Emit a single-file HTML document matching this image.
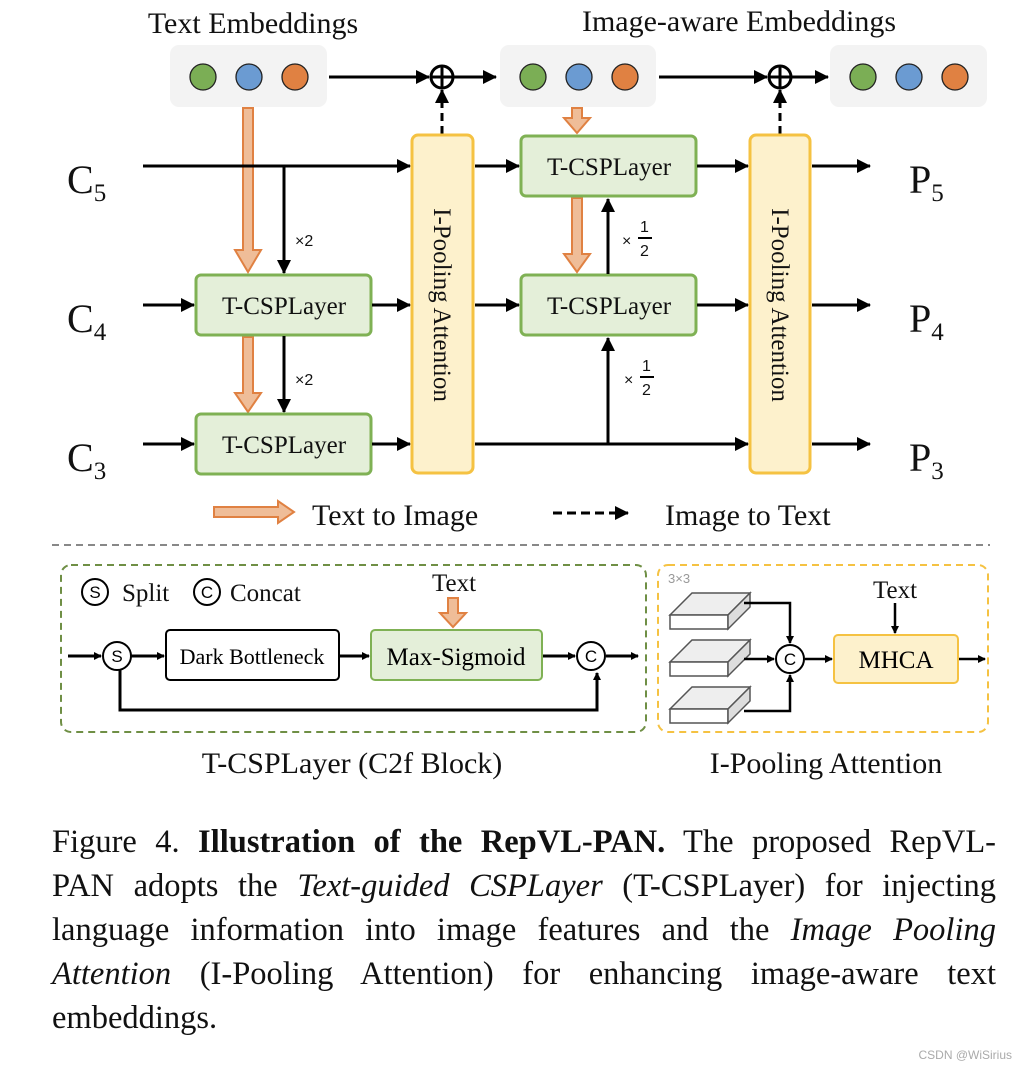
<!DOCTYPE html>
<html><head><meta charset="utf-8"><style>
body{margin:0;background:#fff;width:1026px;height:1070px;overflow:hidden}
svg{position:absolute;left:0;top:0}
.cap{position:absolute;left:52px;width:944px;font-family:"Liberation Serif",serif;font-size:32.5px;line-height:44px;top:820px;color:#111}
.cap div{text-align:justify;text-align-last:justify;white-space:nowrap}
.cap div.l{text-align-last:left}
</style></head><body>
<svg width="1026" height="1070" viewBox="0 0 1026 1070" font-family="Liberation Serif, serif">
<defs>
<marker id="a" markerWidth="8" markerHeight="8" refX="7" refY="4" orient="auto" markerUnits="userSpaceOnUse" viewBox="0 0 8 8"><path d="M0,0L8,4L0,8z" fill="#000"/></marker>
<marker id="b" markerWidth="14" markerHeight="14" refX="13" refY="7" orient="auto" markerUnits="userSpaceOnUse" viewBox="0 0 14 14"><path d="M0,0L14,7L0,14z" fill="#000"/></marker>
</defs>
<g font-size="30" fill="#111">
<text x="253" y="33" text-anchor="middle">Text Embeddings</text>
<text x="739" y="31" text-anchor="middle">Image-aware Embeddings</text>
</g>
<g fill="#f3f3f3"><rect x="170" y="45" width="157" height="62" rx="9"/><rect x="500" y="45" width="156" height="62" rx="9"/><rect x="830" y="45" width="157" height="62" rx="9"/></g>
<g stroke="#222" stroke-width="1.3">
<circle cx="203" cy="77" r="13" fill="#7bae55"/><circle cx="249" cy="77" r="13" fill="#6b9bd2"/><circle cx="295" cy="77" r="13" fill="#e08142"/>
<circle cx="533" cy="77" r="13" fill="#7bae55"/><circle cx="579" cy="77" r="13" fill="#6b9bd2"/><circle cx="625" cy="77" r="13" fill="#e08142"/>
<circle cx="863" cy="77" r="13" fill="#7bae55"/><circle cx="909" cy="77" r="13" fill="#6b9bd2"/><circle cx="955" cy="77" r="13" fill="#e08142"/>
</g>
<g stroke="#000" stroke-width="3" fill="none">
<line x1="329" y1="77" x2="429" y2="77" marker-end="url(#b)"/>
<circle cx="442" cy="77" r="11" fill="#fff"/><line x1="431" y1="77" x2="453" y2="77"/><line x1="442" y1="66" x2="442" y2="88"/>
<line x1="454" y1="77" x2="496" y2="77" marker-end="url(#b)"/>
<line x1="659" y1="77" x2="767" y2="77" marker-end="url(#b)"/>
<circle cx="780" cy="77" r="11" fill="#fff"/><line x1="769" y1="77" x2="791" y2="77"/><line x1="780" y1="66" x2="780" y2="88"/>
<line x1="792" y1="77" x2="828" y2="77" marker-end="url(#b)"/>
<line x1="442" y1="134" x2="442" y2="90" stroke-dasharray="8,5" marker-end="url(#b)"/>
<line x1="780" y1="134" x2="780" y2="90" stroke-dasharray="8,5" marker-end="url(#b)"/>
</g>
<g fill="#efbd98" stroke="#e08142" stroke-width="2">
<path d="M243,108h10v142h8l-13,22l-13,-22h8z"/>
<path d="M243,337h10v56h8l-13,19l-13,-19h8z"/>
<path d="M572,108h10v10h8l-13,15l-13,-15h8z"/>
<path d="M572,198h10v56h8l-13,18l-13,-18h8z"/>
<path d="M214,507h64v-6l16,11l-16,11v-6h-64z"/>
<path d="M448,598h10v15h8l-13,14l-13,-14h8z"/>
</g>
<g fill="#fdf1cc" stroke="#f5c242" stroke-width="3">
<rect x="412" y="135" width="61" height="338" rx="6"/><rect x="750" y="135" width="60" height="338" rx="6"/>
</g>
<g font-size="25" fill="#111">
<text transform="translate(434,305) rotate(90)" text-anchor="middle">I-Pooling Attention</text>
<text transform="translate(772,305) rotate(90)" text-anchor="middle">I-Pooling Attention</text>
</g>
<g fill="#e4efd9" stroke="#7fb154" stroke-width="3">
<rect x="196" y="275" width="175" height="60" rx="5"/><rect x="196" y="414" width="175" height="60" rx="5"/>
<rect x="521" y="136" width="175" height="60" rx="5"/><rect x="521" y="275" width="175" height="60" rx="5"/>
</g>
<g font-size="25" fill="#111" text-anchor="middle">
<text x="284" y="314">T-CSPLayer</text><text x="284" y="453">T-CSPLayer</text>
<text x="609" y="175">T-CSPLayer</text><text x="609" y="314">T-CSPLayer</text>
</g>
<g stroke="#000" stroke-width="3" fill="none">
<line x1="143" y1="166" x2="410" y2="166" marker-end="url(#b)"/>
<line x1="284" y1="166" x2="284" y2="273" marker-end="url(#b)"/>
<line x1="143" y1="305" x2="194" y2="305" marker-end="url(#b)"/>
<line x1="372" y1="305" x2="410" y2="305" marker-end="url(#b)"/>
<line x1="284" y1="336" x2="284" y2="412" marker-end="url(#b)"/>
<line x1="143" y1="444" x2="194" y2="444" marker-end="url(#b)"/>
<line x1="372" y1="444" x2="410" y2="444" marker-end="url(#b)"/>
<line x1="475" y1="166" x2="519" y2="166" marker-end="url(#b)"/>
<line x1="475" y1="305" x2="519" y2="305" marker-end="url(#b)"/>
<line x1="475" y1="444" x2="748" y2="444" marker-end="url(#b)"/>
<line x1="608" y1="444" x2="608" y2="338" marker-end="url(#b)"/>
<line x1="608" y1="274" x2="608" y2="199" marker-end="url(#b)"/>
<line x1="697" y1="166" x2="748" y2="166" marker-end="url(#b)"/>
<line x1="697" y1="305" x2="748" y2="305" marker-end="url(#b)"/>
<line x1="812" y1="166" x2="870" y2="166" marker-end="url(#b)"/>
<line x1="812" y1="305" x2="870" y2="305" marker-end="url(#b)"/>
<line x1="812" y1="444" x2="870" y2="444" marker-end="url(#b)"/>
<line x1="553" y1="513" x2="628" y2="513" stroke-dasharray="9,5" marker-end="url(#b)"/>
</g>
<g font-family="Liberation Sans, sans-serif" font-size="16" fill="#111">
<text x="295" y="246">×2</text><text x="295" y="385">×2</text>
<text x="622" y="246">×</text><text x="640" y="232">1</text><line x1="638" y1="238" x2="652" y2="238" stroke="#000" stroke-width="2"/><text x="640" y="256">2</text>
<text x="624" y="385">×</text><text x="642" y="371">1</text><line x1="640" y1="377" x2="654" y2="377" stroke="#000" stroke-width="2"/><text x="642" y="395">2</text>
</g>
<g font-size="40" fill="#111">
<text x="67" y="193">C<tspan font-size="25" dy="8">5</tspan></text>
<text x="67" y="332">C<tspan font-size="25" dy="8">4</tspan></text>
<text x="67" y="471">C<tspan font-size="25" dy="8">3</tspan></text>
<text x="909" y="193">P<tspan font-size="25" dy="8">5</tspan></text>
<text x="909" y="332">P<tspan font-size="25" dy="8">4</tspan></text>
<text x="909" y="471">P<tspan font-size="25" dy="8">3</tspan></text>
</g>
<g font-size="30" fill="#111"><text x="312" y="525">Text to Image</text><text x="665" y="525">Image to Text</text></g>
<line x1="52" y1="545" x2="990" y2="545" stroke="#888" stroke-width="2" stroke-dasharray="7,5"/>
<rect x="61" y="565" width="585" height="167" rx="10" fill="none" stroke="#6f8f45" stroke-width="2" stroke-dasharray="7,5"/>
<rect x="658" y="565" width="330" height="167" rx="10" fill="none" stroke="#f5c242" stroke-width="2" stroke-dasharray="7,5"/>
<g stroke="#000" stroke-width="2" fill="#fff"><circle cx="95" cy="592" r="13"/><circle cx="207" cy="592" r="13"/></g>
<g font-family="Liberation Sans, sans-serif" font-size="17" text-anchor="middle"><text x="95" y="598">S</text><text x="207" y="598">C</text></g>
<g font-size="25" fill="#111"><text x="122" y="601">Split</text><text x="230" y="601">Concat</text><text x="454" y="591" text-anchor="middle">Text</text><text x="895" y="598" text-anchor="middle">Text</text></g>
<rect x="166" y="630" width="173" height="50" rx="4" fill="#fff" stroke="#000" stroke-width="2"/>
<rect x="371" y="630" width="171" height="50" rx="4" fill="#e4efd9" stroke="#7fb154" stroke-width="2"/>
<text x="252" y="664" text-anchor="middle" font-size="22">Dark Bottleneck</text>
<text x="456" y="665" text-anchor="middle" font-size="25">Max-Sigmoid</text>
<g stroke="#000" stroke-width="3" fill="none">
<line x1="68" y1="656" x2="101" y2="656" marker-end="url(#a)"/>
<line x1="131" y1="656" x2="164" y2="656" marker-end="url(#a)"/>
<line x1="340" y1="656" x2="369" y2="656" marker-end="url(#a)"/>
<line x1="543" y1="656" x2="575" y2="656" marker-end="url(#a)"/>
<line x1="606" y1="656" x2="638" y2="656" marker-end="url(#a)"/>
<polyline points="120,670 120,710 597,710 597,673" marker-end="url(#a)"/>
</g>
<g stroke="#000" stroke-width="2" fill="#fff"><circle cx="117" cy="656" r="14"/><circle cx="591" cy="656" r="14"/><circle cx="790" cy="659" r="14"/></g>
<g font-family="Liberation Sans, sans-serif" font-size="17" text-anchor="middle"><text x="117" y="662">S</text><text x="591" y="662">C</text><text x="790" y="665">C</text></g>
<text x="668" y="583" font-family="Liberation Sans, sans-serif" font-size="13" fill="#999">3×3</text>
<g stroke="#555" stroke-width="1.5">
<g><path d="M670,615l22,-22h58l-22,22z" fill="#eee"/><path d="M670,615h58v14h-58z" fill="#fff"/><path d="M728,615l22,-22v14l-22,22z" fill="#ddd"/></g>
<g><path d="M670,662l22,-22h58l-22,22z" fill="#eee"/><path d="M670,662h58v14h-58z" fill="#fff"/><path d="M728,662l22,-22v14l-22,22z" fill="#ddd"/></g>
<g><path d="M670,709l22,-22h58l-22,22z" fill="#eee"/><path d="M670,709h58v14h-58z" fill="#fff"/><path d="M728,709l22,-22v14l-22,22z" fill="#ddd"/></g>
</g>
<rect x="834" y="635" width="124" height="48" rx="4" fill="#fdf1cc" stroke="#f5c242" stroke-width="2"/>
<text x="896" y="668" text-anchor="middle" font-size="25">MHCA</text>
<g stroke="#000" stroke-width="2.5" fill="none">
<polyline points="744,603 790,603 790,643" marker-end="url(#a)"/>
<line x1="744" y1="659" x2="774" y2="659" marker-end="url(#a)"/>
<polyline points="744,711 790,711 790,675" marker-end="url(#a)"/>
<line x1="805" y1="659" x2="832" y2="659" marker-end="url(#a)"/>
<line x1="959" y1="659" x2="985" y2="659" marker-end="url(#a)"/>
<line x1="895" y1="603" x2="895" y2="633" marker-end="url(#a)"/>
</g>
<g font-size="30" fill="#111" text-anchor="middle"><text x="352" y="773">T-CSPLayer (C2f Block)</text><text x="826" y="773">I-Pooling Attention</text></g>
<text x="1012" y="1059" text-anchor="end" font-family="Liberation Sans, sans-serif" font-size="12" fill="#aaa">CSDN @WiSirius</text>
</svg>
<div class="cap">
<div>Figure 4. <b>Illustration of the RepVL-PAN.</b> The proposed RepVL-</div>
<div>PAN adopts the <i>Text-guided CSPLayer</i> (T-CSPLayer) for injecting</div>
<div>language information into image features and the <i>Image Pooling</i></div>
<div><i>Attention</i> (I-Pooling Attention) for enhancing image-aware text</div>
<div class="l">embeddings.</div>
</div>
</body></html>
